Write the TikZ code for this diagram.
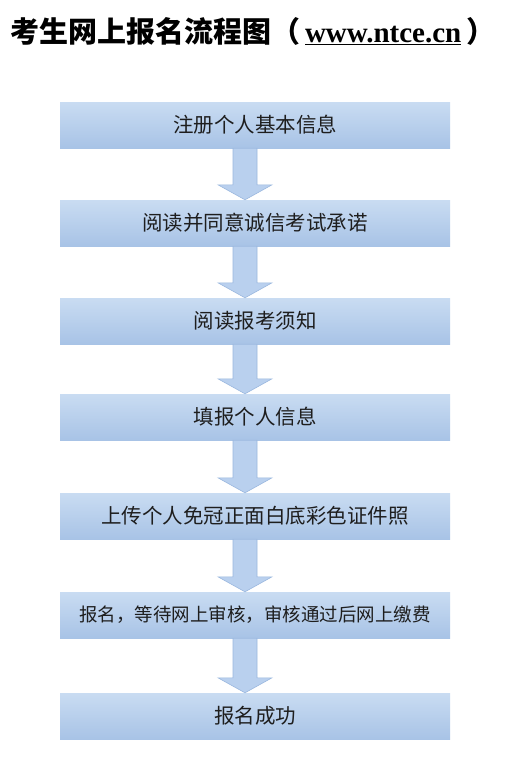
\documentclass[tikz,border=0pt]{standalone}
\usepackage{fontspec}
\setmainfont{Liberation Serif}
\newfontfamily\cjk{Noto Sans CJK SC}
\usetikzlibrary{positioning}
\definecolor{boxtop}{HTML}{C9DCF2}
\definecolor{boxbot}{HTML}{A8C3E6}
\definecolor{arrfill}{HTML}{B9D0EE}
\definecolor{arrline}{HTML}{9BB8DF}
\definecolor{txt}{HTML}{1E1E1E}
\tikzset{
  stepbox/.style={rectangle, minimum width=390pt, minimum height=46pt, inner sep=0pt,
    top color=boxtop, bottom color=boxbot, draw=none,
    font=\cjk\fontsize{20.5}{20.5}\selectfont, text=txt},
  downarrow/.style={fill=arrfill, draw=arrline, line width=0.6pt, line join=miter}
}
\begin{document}
\begin{tikzpicture}[x=1pt,y=-1pt]
\useasboundingbox (0,0) rectangle (524,758);
\fill[white] (0,0) rectangle (524,758);
\node[anchor=west, inner sep=0pt] (title) at (10,31)
  {\cjk\bfseries\fontsize{29}{29}\selectfont 考生网上报名流程图（\,{\rmfamily\bfseries\fontsize{29}{29}\selectfont\underline{www.ntce.cn}}\,）};
\node[stepbox] (b1) at (255,125) {注册个人基本信息};
\node[stepbox] (b2) at (255,223) {阅读并同意诚信考试承诺};
\node[stepbox] (b3) at (255,321) {阅读报考须知};
\node[stepbox] (b4) at (255,417) {填报个人信息};
\node[stepbox] (b5) at (255,516) {上传个人免冠正面白底彩色证件照};
\node[stepbox, font=\cjk\fontsize{18.5}{18.5}\selectfont] (b6) at (255,615) {报名，等待网上审核，审核通过后网上缴费};
\node[stepbox] (b7) at (255,716) {报名成功};
\foreach \a/\b in {b1/b2,b2/b3,b3/b4,b4/b5,b5/b6,b6/b7}{
  \path (\a.south) ++(-10,0) coordinate (s) (\b.north) ++(-10,0) coordinate (t);
  \draw[downarrow] ([xshift=-12pt]s) -- ([xshift=-12pt,yshift=15pt]t) -- ([xshift=-27pt,yshift=15pt]t)
     -- (t) -- ([xshift=27pt,yshift=15pt]t) -- ([xshift=12pt,yshift=15pt]t) -- ([xshift=12pt]s) -- cycle;
}
\end{tikzpicture}
\end{document}
